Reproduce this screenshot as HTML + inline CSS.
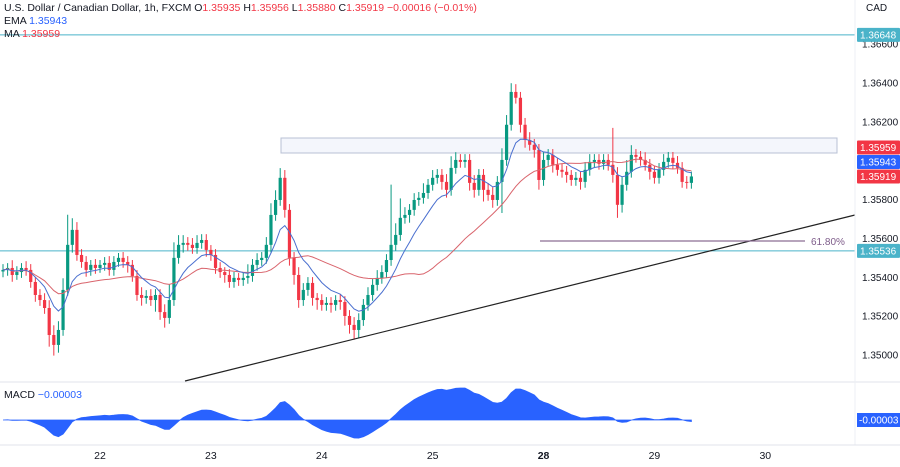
<!DOCTYPE html>
<html><head><meta charset="utf-8">
<style>
html,body{margin:0;padding:0;background:#fff;}
body{width:900px;height:462px;overflow:hidden;font-family:"Liberation Sans",sans-serif;}
svg text{font-family:"Liberation Sans",sans-serif;}
</style></head>
<body>
<svg id="chart" width="900" height="462" viewBox="0 0 900 462" xmlns="http://www.w3.org/2000/svg">
<rect x="0" y="0" width="900" height="462" fill="#fff"/>
<g id="grid"></g>
<rect x="281" y="138" width="556" height="15" fill="#f4f6fc" stroke="#b8c0d4" stroke-width="1"/>
<g id="hlines"></g>
<g id="candles"></g>
<g id="lines"></g>
<line x1="185" y1="381" x2="855" y2="215" stroke="#222" stroke-width="1.2"/>
<line x1="540" y1="241" x2="805" y2="241" stroke="#8c6d94" stroke-width="1.2"/>
<text x="811" y="245" font-size="10" fill="#7e5c8a">61.80%</text>
<line x1="0" y1="382" x2="900" y2="382" stroke="#e0e3eb"/>
<g id="macd"></g>
<line x1="855" y1="0" x2="855" y2="445" stroke="#eceff4"/>
<line x1="0" y1="445" x2="900" y2="445" stroke="#e0e3eb"/>
<g id="yaxis"></g>
<g id="xaxis"></g>
<g id="tags"></g>
<text x="866" y="11" font-size="10" fill="#131722">CAD</text>
<text x="4" y="11" font-size="10.5" fill="#131722">U.S. Dollar / Canadian Dollar, 1h, FXCM <tspan fill="#131722">O</tspan><tspan fill="#f23645">1.35935</tspan> <tspan>H</tspan><tspan fill="#f23645">1.35956</tspan> <tspan>L</tspan><tspan fill="#f23645">1.35880</tspan> <tspan>C</tspan><tspan fill="#f23645">1.35919</tspan> <tspan fill="#f23645">−0.00016 (−0.01%)</tspan></text>
<text x="4" y="24" font-size="10.5" fill="#131722">EMA <tspan fill="#2962ff">1.35943</tspan></text>
<text x="4" y="37" font-size="10.5" fill="#131722">MA <tspan fill="#f23645">1.35959</tspan></text>
<text x="4" y="398" font-size="10.5" fill="#131722">MACD <tspan fill="#2962ff">−0.00003</tspan></text>
</svg>
<script>
const closes=[438,448,412,427,448,438,376,309,283,242,103,52,129,335,567,644,515,479,438,464,448,464,474,438,479,500,479,464,407,309,294,304,283,309,221,191,283,500,567,577,567,551,577,592,541,515,448,427,412,376,397,386,397,407,464,489,500,567,721,798,912,747,500,412,283,335,371,294,283,258,268,258,283,273,201,155,129,180,258,309,361,397,427,489,567,618,706,721,747,798,809,834,876,912,927,891,850,963,1004,994,1004,886,850,927,850,824,798,891,1004,1185,1354,1324,1185,1107,1082,1056,901,1004,1030,979,953,943,927,901,912,891,953,994,1004,984,1004,979,927,773,876,943,1030,1020,1004,979,943,912,953,994,1015,989,963,891,886,919];
const upperWick=[30,25,40,30,25,35,30,25,30,35,40,50,45,60,155,60,40,30,30,25,30,25,30,35,30,25,30,30,25,30,40,30,35,30,30,40,80,80,50,40,30,35,40,30,30,25,30,30,25,30,30,25,30,60,30,35,30,40,60,50,50,40,30,30,40,35,30,30,25,30,30,30,25,30,30,30,40,35,30,40,30,40,35,30,310,60,100,40,30,35,30,50,30,40,30,30,40,60,40,30,30,30,40,30,30,35,40,30,60,50,45,40,30,35,40,30,30,40,30,30,35,30,30,25,30,30,40,40,30,30,30,30,190,40,40,60,50,30,30,40,30,30,35,40,30,30,35,30,30,25];
const lowerWick=[30,30,35,25,30,30,30,35,30,30,60,55,40,30,30,40,30,30,35,30,30,25,30,30,30,25,30,40,30,30,40,30,30,60,40,50,30,30,30,40,30,30,30,30,35,30,30,30,40,30,30,30,30,30,30,30,30,30,40,30,30,40,40,50,40,30,30,40,50,30,30,40,30,40,50,45,50,40,30,30,30,30,30,30,30,30,30,30,40,30,30,30,30,30,30,40,40,30,30,30,30,40,40,30,60,30,40,30,160,30,30,30,40,40,30,40,50,30,30,40,30,30,40,30,30,40,30,30,30,30,30,30,40,67,40,30,30,30,30,30,40,30,30,30,30,30,30,30,30,30];
const firstOpen=430;
const yTicks=[1.366,1.364,1.362,1.358,1.356,1.354,1.352,1.350];
const dayLabels=["22","23","24","25","28","29","30"];
const dayBarIndex=[21,45,69,93,117,141,165];
const tagPrices=[1.36648,1.35959,1.35943,1.35919,1.35536];
const tagColors=["#4ab3c9","#f23645","#2962ff","#f23645","#4ab3c9"];
const hLevels=[1.36648,1.35536];

const NS="http://www.w3.org/2000/svg";
function mk(t,a,parent){const e=document.createElementNS(NS,t);for(const k in a)e.setAttribute(k,a[k]);parent.appendChild(e);return e;}
const X=i=>3+i*4.62;
const price=v=>1.35+v/1e5;
const Y=p=>83+(1.364-p)*19430;

const G=document.getElementById('candles');
let prev=firstOpen;
closes.forEach((c,i)=>{
  const o=prev;prev=c;
  const hi=Math.max(o,c)+upperWick[i], lo=Math.min(o,c)-lowerWick[i];
  const up=c>=o, col=up?"#089981":"#f23645";
  const g=mk('g',{},G);
  
  
  mk('line',{x1:X(i),x2:X(i),y1:Y(price(hi)),y2:Y(price(lo)),stroke:col,'stroke-width':1},g);
  const t=Y(price(Math.max(o,c))),b=Y(price(Math.min(o,c)));
  mk('rect',{x:X(i)-1.6,y:t,width:3.2,height:Math.max(1,b-t),fill:col},g);
});

const L=document.getElementById('lines');
let ema=closes[0],k=2/10,ep=[],mp=[];
closes.forEach((c,i)=>{
  ema=c*k+ema*(1-k);ep.push(X(i).toFixed(1)+','+Y(price(ema)).toFixed(1));
  const s=closes.slice(Math.max(0,i-29),i+1);const m=s.reduce((a,b)=>a+b,0)/s.length;
  mp.push(X(i).toFixed(1)+','+Y(price(m)).toFixed(1));
});
const ml=mk('polyline',{points:mp.join(' '),fill:'none',stroke:'#d9646c','stroke-width':1},L);


const el=mk('polyline',{points:ep.join(' '),fill:'none',stroke:'#4a6fcf','stroke-width':1},L);



const H=document.getElementById('hlines');
hLevels.forEach(p=>{const l=mk('line',{x1:0,x2:855,y1:Y(p),y2:Y(p),stroke:'#4ab3c9','stroke-width':1},H);

});

const M=document.getElementById('macd');
let e12=closes[0],e26=closes[0],mv=[];
closes.forEach(c=>{e12=c*2/13+e12*11/13;e26=c*2/27+e26*25/27;mv.push(e12-e26);});
const mx=Math.max(...mv.map(Math.abs));
const zero=420,sc=32/mx;
let pts=[X(0)+','+zero];
mv.forEach((v,i)=>pts.push(X(i).toFixed(1)+','+(zero-v*sc).toFixed(1)));
pts.push(X(mv.length-1)+','+zero);
const ma=mk('polygon',{points:pts.join(' '),fill:'#2962ff',stroke:'#2962ff','stroke-width':0.8},M);



const YA=document.getElementById('yaxis');
yTicks.forEach(p=>{const t=mk('text',{x:862,y:Y(p)+3.5,'font-size':10,fill:'#131722'},YA);t.textContent=p.toFixed(5);

});
const XA=document.getElementById('xaxis');
dayLabels.forEach((d,i)=>{const t=mk('text',{x:X(dayBarIndex[i]),y:459,'font-size':10.5,'text-anchor':'middle',fill:'#131722','font-weight':d==='28'?'bold':'normal'},XA);t.textContent=d;

});

// tags: stack the clustered ones upward from the lowest (last price)
const T=document.getElementById('tags');
const ys=tagPrices.map(Y);
ys[2]=Math.min(ys[2],ys[3]-14.5);
ys[1]=Math.min(ys[1],ys[2]-14.5);
tagPrices.forEach((p,i)=>{const y=ys[i];const g=mk('g',{},T);


mk('rect',{x:857,y:y-7,width:43,height:14,fill:tagColors[i],rx:1},g);
const t=mk('text',{x:860,y:y+3.5,'font-size':10,fill:'#fff'},g);t.textContent=p.toFixed(5);});
const mg=mk('g',{},T);


mk('rect',{x:857,y:413,width:43,height:14,fill:'#2962ff'},mg);
const mt=mk('text',{x:859,y:423.5,'font-size':10,fill:'#fff'},mg);mt.textContent='-0.00003';
</script>
</body></html>
